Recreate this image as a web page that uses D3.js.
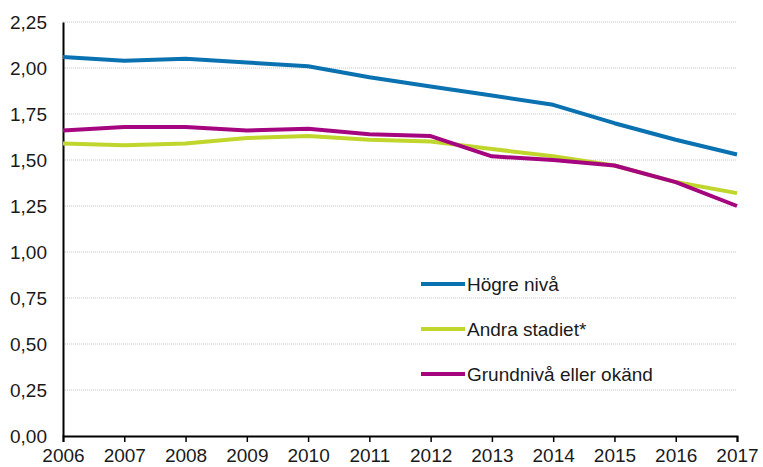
<!DOCTYPE html>
<html>
<head>
<meta charset="utf-8">
<script src="https://cdn.jsdelivr.net/npm/d3@7"></script>
<style>
	body { margin: 0; background: #fff; }
	text { font-family: "Liberation Sans", Arial, sans-serif; fill: #1a1a1a; }
</style>
</head>
<body>
<div id="graph"></div>
<script>
// DATA
var years = [2006, 2007, 2008, 2009, 2010, 2011, 2012, 2013, 2014, 2015, 2016, 2017];
var hogreNiva = [2.06, 2.04, 2.05, 2.03, 2.01, 1.95, 1.90, 1.85, 1.80, 1.70, 1.61, 1.53];
var andraStadiet = [1.59, 1.58, 1.59, 1.62, 1.63, 1.61, 1.60, 1.56, 1.52, 1.47, 1.38, 1.32];
var grundniva = [1.66, 1.68, 1.68, 1.66, 1.67, 1.64, 1.63, 1.52, 1.50, 1.47, 1.38, 1.25];
var yTicks = [0, 0.25, 0.5, 0.75, 1, 1.25, 1.5, 1.75, 2, 2.25];
var seriesNames = ["Högre nivå", "Andra stadiet*", "Grundnivå eller okänd"];
var seriesColors = ["#0a72b0", "#c0d62c", "#a5057f"];

var series = [hogreNiva, andraStadiet, grundniva];

// SET DIMENSIONS AND MARGINS OF GRAPH
var margin = { top: 22, right: 26, bottom: 31, left: 63 },
	width = 763 - margin.left - margin.right,
	height = 467 - margin.top - margin.bottom;

var svg = d3
	.select("#graph")
	.append("svg")
	.attr("width", 763)
	.attr("height", 467)
	.append("g")
	.attr("transform", "translate(" + margin.left + "," + margin.top + ")");

// SCALES
var x = d3.scaleLinear().domain([2006, 2017]).range([0, width]);
var y = d3.scaleLinear().domain([0, 2.25]).range([height, 0]);

// GRIDLINES
svg
	.selectAll(".grid")
	.data(yTicks.filter(function (d) { return d > 0; }))
	.join("line")
	.attr("class", "grid")
	.attr("x1", 0)
	.attr("x2", width)
	.attr("y1", function (d) { return y(d); })
	.attr("y2", function (d) { return y(d); })
	.attr("stroke", "#c4c4c4")
	.attr("stroke-width", 1)
	.attr("stroke-dasharray", "1,1");

// Y-AXIS
var yAxis = svg
	.append("g")
	.call(
		d3.axisLeft(y)
			.tickValues(yTicks)
			.tickSize(0)
			.tickPadding(16)
			.tickFormat(function (d) { return d3.format(".2f")(d).replace(".", ","); })
	);
yAxis.select(".domain").attr("stroke", "#000").attr("stroke-width", 2);
yAxis.selectAll("text").attr("font-size", 19).attr("fill", "#1a1a1a");

// X-AXIS
var xAxis = svg
	.append("g")
	.attr("transform", "translate(0," + height + ")")
	.call(
		d3.axisBottom(x)
			.tickValues(years)
			.tickSize(6)
			.tickSizeOuter(6)
			.tickPadding(7)
			.tickFormat(d3.format("d"))
	);
xAxis.select(".domain").attr("stroke", "#000").attr("stroke-width", 2);
xAxis.selectAll(".tick line").attr("stroke", "#000").attr("stroke-width", 1.5);
xAxis.selectAll("text").attr("font-size", 19).attr("fill", "#1a1a1a");

// LINES
var line = d3
	.line()
	.x(function (d, i) { return x(years[i]); })
	.y(function (d) { return y(d); });

series.forEach(function (values, i) {
	svg
		.append("path")
		.datum(values)
		.attr("fill", "none")
		.attr("stroke", seriesColors[i])
		.attr("stroke-width", 4)
		.attr("stroke-linejoin", "round")
		.attr("d", line);
});

// LEGEND
var legend = svg
	.selectAll(".legend")
	.data(seriesNames)
	.join("g")
	.attr("class", "legend")
	.attr("transform", function (d, i) {
		return "translate(358," + (262 + i * 45) + ")";
	});
legend
	.append("line")
	.attr("x1", 0)
	.attr("x2", 44)
	.attr("stroke", function (d, i) { return seriesColors[i]; })
	.attr("stroke-width", 4);
legend
	.append("text")
	.attr("x", 46)
	.attr("dy", "0.35em")
	.attr("font-size", 19)
	.text(function (d) { return d; });
</script>
</body>
</html>
